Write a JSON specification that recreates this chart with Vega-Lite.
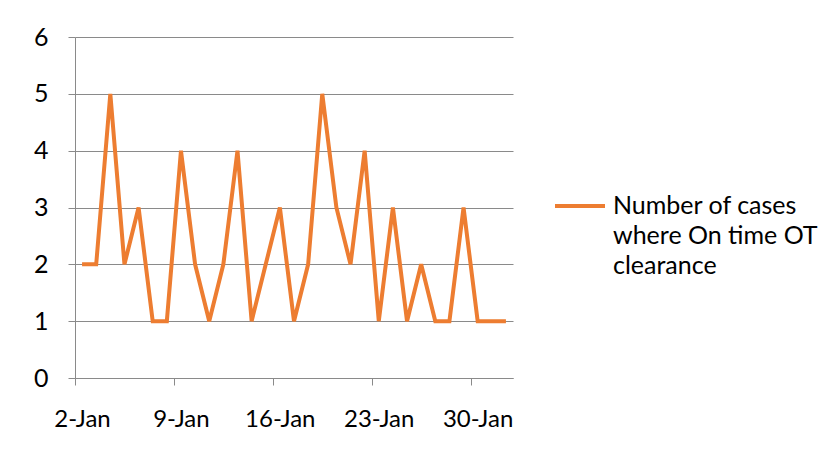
{
  "$schema": "https://vega.github.io/schema/vega-lite/v6.json",
  "autosize": "none",
  "width": 438,
  "height": 341,
  "padding": {"left": 75, "top": 37, "right": 323, "bottom": 81},
  "background": "white",
  "data": {
    "values": [
      {"day": "2013-01-02", "cases": 2, "series": "Number of cases where On time OT clearance"},
      {"day": "2013-01-03", "cases": 2, "series": "Number of cases where On time OT clearance"},
      {"day": "2013-01-04", "cases": 5, "series": "Number of cases where On time OT clearance"},
      {"day": "2013-01-05", "cases": 2, "series": "Number of cases where On time OT clearance"},
      {"day": "2013-01-06", "cases": 3, "series": "Number of cases where On time OT clearance"},
      {"day": "2013-01-07", "cases": 1, "series": "Number of cases where On time OT clearance"},
      {"day": "2013-01-08", "cases": 1, "series": "Number of cases where On time OT clearance"},
      {"day": "2013-01-09", "cases": 4, "series": "Number of cases where On time OT clearance"},
      {"day": "2013-01-10", "cases": 2, "series": "Number of cases where On time OT clearance"},
      {"day": "2013-01-11", "cases": 1, "series": "Number of cases where On time OT clearance"},
      {"day": "2013-01-12", "cases": 2, "series": "Number of cases where On time OT clearance"},
      {"day": "2013-01-13", "cases": 4, "series": "Number of cases where On time OT clearance"},
      {"day": "2013-01-14", "cases": 1, "series": "Number of cases where On time OT clearance"},
      {"day": "2013-01-15", "cases": 2, "series": "Number of cases where On time OT clearance"},
      {"day": "2013-01-16", "cases": 3, "series": "Number of cases where On time OT clearance"},
      {"day": "2013-01-17", "cases": 1, "series": "Number of cases where On time OT clearance"},
      {"day": "2013-01-18", "cases": 2, "series": "Number of cases where On time OT clearance"},
      {"day": "2013-01-19", "cases": 5, "series": "Number of cases where On time OT clearance"},
      {"day": "2013-01-20", "cases": 3, "series": "Number of cases where On time OT clearance"},
      {"day": "2013-01-21", "cases": 2, "series": "Number of cases where On time OT clearance"},
      {"day": "2013-01-22", "cases": 4, "series": "Number of cases where On time OT clearance"},
      {"day": "2013-01-23", "cases": 1, "series": "Number of cases where On time OT clearance"},
      {"day": "2013-01-24", "cases": 3, "series": "Number of cases where On time OT clearance"},
      {"day": "2013-01-25", "cases": 1, "series": "Number of cases where On time OT clearance"},
      {"day": "2013-01-26", "cases": 2, "series": "Number of cases where On time OT clearance"},
      {"day": "2013-01-27", "cases": 1, "series": "Number of cases where On time OT clearance"},
      {"day": "2013-01-28", "cases": 1, "series": "Number of cases where On time OT clearance"},
      {"day": "2013-01-29", "cases": 3, "series": "Number of cases where On time OT clearance"},
      {"day": "2013-01-30", "cases": 1, "series": "Number of cases where On time OT clearance"},
      {"day": "2013-01-31", "cases": 1, "series": "Number of cases where On time OT clearance"},
      {"day": "2013-02-01", "cases": 1, "series": "Number of cases where On time OT clearance"}
    ]
  },
  "mark": {"type": "line", "strokeWidth": 4, "strokeJoin": "miter", "strokeCap": "butt"},
  "encoding": {
    "x": {
      "field": "day",
      "type": "temporal",
      "scale": {
        "type": "utc",
        "domain": [
          {"year": 2013, "month": 1, "date": 1, "hours": 12, "utc": true},
          {"year": 2013, "month": 2, "date": 1, "hours": 12, "utc": true}
        ]
      },
      "axis": {
        "title": null,
        "grid": false,
        "values": [
          {"year": 2013, "month": 1, "date": 1, "hours": 12, "utc": true},
          {"year": 2013, "month": 1, "date": 8, "hours": 12, "utc": true},
          {"year": 2013, "month": 1, "date": 15, "hours": 12, "utc": true},
          {"year": 2013, "month": 1, "date": 22, "hours": 12, "utc": true},
          {"year": 2013, "month": 1, "date": 29, "hours": 12, "utc": true}
        ],
        "labelExpr": "utcFormat(datum.value + 43200000, '%-d-%b')",
        "labelOffset": 7,
        "labelAlign": "center",
        "labelPadding": 22,
        "labelFontSize": 24,
        "tickSize": 7,
        "labelFlush": false,
        "labelOverlap": false
      }
    },
    "y": {
      "field": "cases",
      "type": "quantitative",
      "scale": {"domain": [0, 6], "nice": false, "zero": true},
      "axis": {
        "title": null,
        "values": [0, 1, 2, 3, 4, 5, 6],
        "tickSize": 7,
        "labelPadding": 20,
        "grid": true
      }
    },
    "color": {
      "field": "series",
      "type": "nominal",
      "scale": {"range": ["#ED7D31"]},
      "legend": {
        "title": null,
        "orient": "none",
        "legendX": 478,
        "legendY": 142,
        "padding": 0,
        "symbolType": "stroke",
        "symbolSize": 2500,
        "symbolStrokeWidth": 4,
        "labelOffset": 6,
        "labelLimit": 400,
        "labelFont": "Lato",
        "labelFontSize": 25,
        "labelColor": "#000000",
        "labelBaseline": "middle",
        "labelExpr": "['Number of cases', 'where On time OT', 'clearance']"
      }
    }
  },
  "config": {
    "view": {"stroke": null},
    "style": {"guide-label": {"lineHeight": 30}},
    "axis": {
      "labelFont": "Lato",
      "labelFontSize": 25,
      "labelColor": "#000000",
      "domainColor": "#8a8a8a",
      "tickColor": "#8a8a8a",
      "gridColor": "#8a8a8a",
      "gridOpacity": 1,
      "domainWidth": 1,
      "tickWidth": 1,
      "gridWidth": 1
    }
  }
}
